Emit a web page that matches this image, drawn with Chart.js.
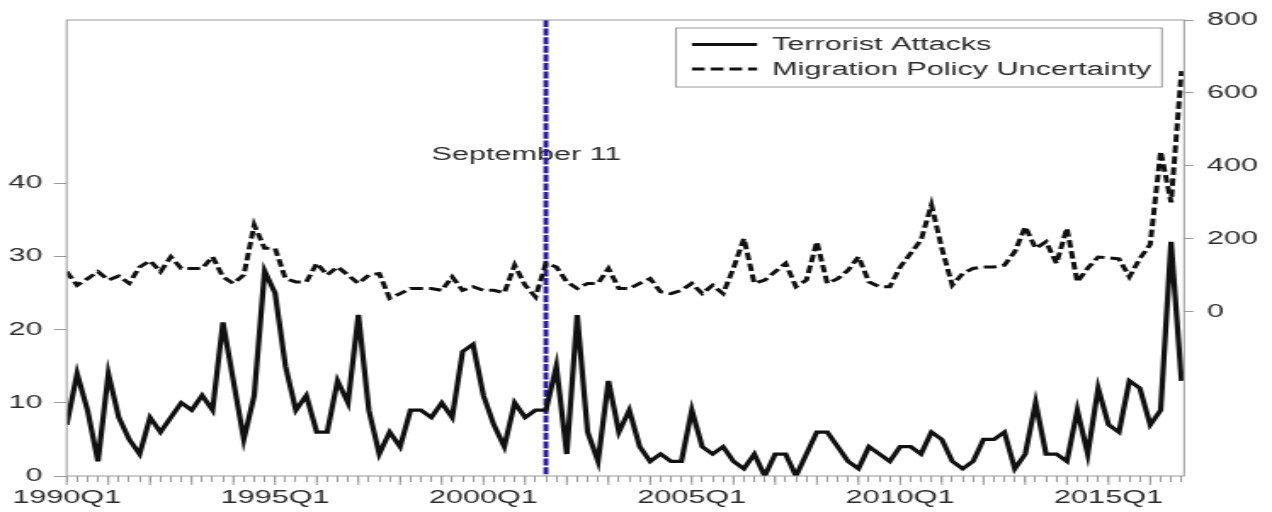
<!DOCTYPE html>
<html>
<head>
<meta charset="utf-8">
<script src="https://cdn.jsdelivr.net/npm/chart.js@4/dist/chart.umd.min.js"></script>
<style>
  html, body { margin: 0; padding: 0; background: #fff; overflow: hidden; }
  /* the figure is laid out narrow and widened horizontally */
  #wrap { width: 748px; height: 512px; transform: scaleX(1.70053); transform-origin: 0 0; }
  canvas { display: block; }
</style>
</head>
<body>
<div id="wrap"><canvas id="chart" width="748" height="512"></canvas></div>
<script>
// Quarterly periods 1990Q1 .. 2016Q4
const quarters = [];
for (let y = 1990; y <= 2016; y++) for (let q = 1; q <= 4; q++) quarters.push(y + 'Q' + q);

// Number of terrorist attacks per quarter (left axis)
const terroristAttacks = [
  7, 14, 9, 2, 14, 8, 5, 3, 8, 6,
  8, 10, 9, 11, 9, 21, 13, 5, 11, 28,
  25, 15, 9, 11, 6, 6, 13, 10, 22, 9,
  3, 6, 4, 9, 9, 8, 10, 8, 17, 18,
  11, 7, 4, 10, 8, 9, 9, 15, 3, 22,
  6, 2, 13, 6, 9, 4, 2, 3, 2, 2,
  9, 4, 3, 4, 2, 1, 3, 0, 3, 3,
  0, 3, 6, 6, 4, 2, 1, 4, 3, 2,
  4, 4, 3, 6, 5, 2, 1, 2, 5, 5,
  6, 1, 3, 10, 3, 3, 2, 9, 3, 12,
  7, 6, 13, 12, 7, 9, 32, 13
];

// Migration policy uncertainty index (right axis)
const migrationUncertainty = [
  110, 73, 91, 110, 87, 98, 78, 123, 140, 110,
  151, 119, 119, 119, 151, 96, 78, 101, 238, 174,
  174, 91, 82, 82, 133, 101, 123, 101, 78, 101,
  105, 37, 50, 64, 64, 64, 59, 96, 59, 69,
  59, 59, 52, 128, 73, 41, 133, 123, 82, 64,
  78, 78, 119, 64, 64, 78, 91, 55, 50, 59,
  78, 50, 73, 50, 120, 201, 78, 87, 110, 133,
  69, 87, 192, 78, 91, 114, 151, 82, 69, 69,
  123, 160, 197, 293, 174, 73, 105, 119, 123, 123,
  128, 165, 233, 174, 192, 133, 229, 82, 120, 150,
  148, 145, 96, 146, 185, 440, 300, 660
];

const seriesNames = ['Terrorist Attacks', 'Migration Policy Uncertainty'];
const leftTicks = [0, 10, 20, 30, 40];
const rightTicks = [0, 200, 400, 600, 800];
const labelStep = 20;           // a date label every five years
const eventQuarter = '2001Q3';
const eventLabel = 'September 11';

const eventIndex = quarters.indexOf(eventQuarter);
const FONT = '"Liberation Sans", Arial, sans-serif';
const TEXT = '#2b2b2b';
const AXIS = '#9a9a9a';

const toPoints = arr => arr.map((v, i) => ({ x: i, y: v }));

const decorations = {
  id: 'decorations',
  beforeDatasetsDraw(chart) {
    const { ctx, chartArea: a, scales: { x } } = chart;
    ctx.save();
    // event caption
    ctx.font = '18px ' + FONT;
    ctx.fillStyle = TEXT;
    ctx.textAlign = 'left';
    ctx.textBaseline = 'middle';
    ctx.fillText(eventLabel, x.getPixelForValue(eventIndex - 11), a.top + 135.5);
    // event marker
    const ex = x.getPixelForValue(eventIndex);
    ctx.strokeStyle = '#2f1c9c';
    ctx.lineWidth = 2.9;
    ctx.setLineDash([7, 1.6]);
    ctx.beginPath();
    ctx.moveTo(ex, a.top);
    ctx.lineTo(ex, a.bottom);
    ctx.stroke();
    ctx.restore();
  },
  afterDraw(chart) {
    const { ctx, chartArea: a, scales: { x } } = chart;
    ctx.save();
    // plot frame
    ctx.strokeStyle = AXIS;
    ctx.lineWidth = 1;
    ctx.strokeRect(a.left, a.top, a.right - a.left, a.bottom - a.top);
    // longer ticks at each year
    ctx.beginPath();
    for (let i = 0; i < quarters.length; i += 4) {
      const px = x.getPixelForValue(i);
      ctx.moveTo(px, a.bottom);
      ctx.lineTo(px, a.bottom + 9);
    }
    ctx.stroke();

    // legend
    const lx = 397.5, ly = 28, lw = 285.8, lh = 59;
    ctx.fillStyle = '#fff';
    ctx.fillRect(lx, ly, lw, lh);
    ctx.strokeStyle = AXIS;
    ctx.lineWidth = 1;
    ctx.strokeRect(lx, ly, lw, lh);
    const rows = [44.5, 69];
    chart.data.datasets.forEach((ds, k) => {
      ctx.strokeStyle = ds.borderColor;
      ctx.lineWidth = ds.borderWidth;
      ctx.setLineDash(ds.borderDash || []);
      ctx.beginPath();
      ctx.moveTo(406.9, rows[k]);
      ctx.lineTo(445.2, rows[k]);
      ctx.stroke();
      ctx.setLineDash([]);
      ctx.font = '18px ' + FONT;
      ctx.fillStyle = TEXT;
      ctx.textAlign = 'left';
      ctx.textBaseline = 'middle';
      ctx.fillText(ds.label, 454, rows[k] + 1);
    });
    ctx.restore();
  }
};

new Chart(document.getElementById('chart'), {
  type: 'line',
  data: {
    datasets: [
      {
        label: seriesNames[0],
        data: toPoints(terroristAttacks),
        yAxisID: 'y',
        borderColor: '#111',
        borderWidth: 3.2,
        pointRadius: 0,
        tension: 0,
        fill: false
      },
      {
        label: seriesNames[1],
        data: toPoints(migrationUncertainty),
        yAxisID: 'y1',
        borderColor: '#111',
        borderWidth: 3,
        borderDash: [7.5, 3.5],
        pointRadius: 0,
        tension: 0,
        fill: false
      }
    ]
  },
  options: {
    responsive: false,
    animation: false,
    devicePixelRatio: 1,
    layout: { padding: { top: 20, left: 0, right: 0, bottom: 0 } },
    plugins: { legend: { display: false }, tooltip: { enabled: false } },
    scales: {
      x: {
        type: 'linear',
        min: 0,
        max: 107.25,
        afterBuildTicks: s => { s.ticks = quarters.map((q, i) => ({ value: i })); },
        afterFit: s => { s.height = 36; },
        ticks: {
          autoSkip: false,
          maxRotation: 0,
          minRotation: 0,
          padding: 5,
          color: TEXT,
          font: { family: FONT, size: 18 },
          callback: v => (v % labelStep === 0 ? quarters[v] : '')
        },
        grid: { display: true, drawOnChartArea: false, drawTicks: true, tickLength: 6, color: AXIS },
        border: { display: false }
      },
      y: {
        position: 'left',
        min: 0,
        max: 62.3,
        afterBuildTicks: s => { s.ticks = leftTicks.map(v => ({ value: v })); },
        afterFit: s => { s.width = 39.2; },
        ticks: { padding: 6.6, color: TEXT, font: { family: FONT, size: 18 } },
        grid: { display: true, drawOnChartArea: false, drawTicks: true, tickLength: 7.5, color: AXIS },
        border: { display: false }
      },
      y1: {
        position: 'right',
        min: -450,
        max: 800,
        afterBuildTicks: s => { s.ticks = rightTicks.map(v => ({ value: v })); },
        afterFit: s => { s.width = 51.7; },
        ticks: { padding: 8, color: TEXT, font: { family: FONT, size: 18 } },
        grid: { display: true, drawOnChartArea: false, drawTicks: true, tickLength: 5.5, color: AXIS },
        border: { display: false }
      }
    }
  },
  plugins: [decorations]
});
</script>
</body>
</html>
